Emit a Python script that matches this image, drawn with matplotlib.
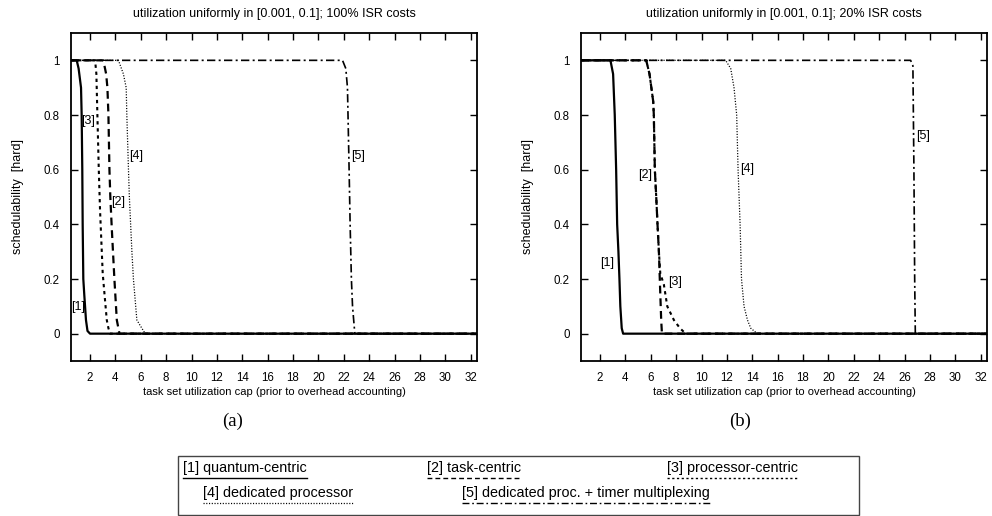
import matplotlib
matplotlib.use("Agg")
import matplotlib.pyplot as plt
from matplotlib.lines import Line2D
from matplotlib.patches import Rectangle
from matplotlib import font_manager

plt.rcParams['font.family'] = ['Liberation Sans', 'DejaVu Sans']

# ---------------- data ----------------
titles = ["utilization uniformly in [0.001, 0.1]; 100% ISR costs",
          "utilization uniformly in [0.001, 0.1]; 20% ISR costs"]
panel_tags = ["(a)", "(b)"]
xlabel = "task set utilization cap (prior to overhead accounting)"
ylabel = "schedulability  [hard]"
xticks = list(range(2, 33, 2))
yticks = [0, 0.2, 0.4, 0.6, 0.8, 1]
ytick_labels = ['0', '0.2', '0.4', '0.6', '0.8', '1']
series_names = ["[1] quantum-centric", "[2] task-centric", "[3] processor-centric",
                "[4] dedicated processor", "[5] dedicated proc. + timer multiplexing"]
series_tags = ["[1]", "[2]", "[3]", "[4]", "[5]"]

# panel (a): 100% ISR costs
a1_x = [0.5, 0.95, 1.1, 1.29, 1.34, 1.39, 1.42, 1.47, 1.55, 1.68, 1.8, 2.0, 32.5]
a1_y = [1, 1, 0.97, 0.9, 0.8, 0.6, 0.4, 0.2, 0.14, 0.05, 0.01, 0, 0]
a2_x = [0.5, 3.05, 3.27, 3.37, 3.45, 3.53, 3.6, 3.72, 3.92, 4.11, 4.32, 32.5]
a2_y = [1, 1, 0.95, 0.9, 0.8, 0.6, 0.5, 0.38, 0.2, 0.05, 0, 0]
a3_x = [0.5, 2.4, 2.5, 2.58, 2.69, 2.79, 3.0, 3.13, 3.32, 3.45, 3.58, 32.5]
a3_y = [1, 1, 0.95, 0.8, 0.6, 0.45, 0.22, 0.15, 0.05, 0.02, 0, 0]
a4_x = [0.5, 4.24, 4.63, 4.85, 4.9, 5.03, 5.1, 5.3, 5.42, 5.69, 5.95, 6.35, 32.5]
a4_y = [1, 1, 0.95, 0.9, 0.8, 0.6, 0.5, 0.3, 0.2, 0.05, 0.03, 0, 0]
a5_x = [0.5, 21.9, 22.16, 22.29, 22.42, 22.5, 22.6, 22.69, 22.87, 32.5]
a5_y = [1, 1, 0.97, 0.9, 0.6, 0.4, 0.2, 0.1, 0, 0]

# panel (b): 20% ISR costs
b1_x = [0.5, 2.82, 3.03, 3.16, 3.27, 3.35, 3.45, 3.53, 3.6, 3.71, 3.82, 32.5]
b1_y = [1, 1, 0.95, 0.8, 0.6, 0.4, 0.3, 0.2, 0.1, 0.02, 0, 0]
b2_x = [0.5, 5.64, 5.9, 6.19, 6.24, 6.32, 6.43, 6.53, 6.64, 6.71, 6.82, 6.88, 32.5]
b2_y = [1, 1, 0.95, 0.85, 0.8, 0.6, 0.5, 0.4, 0.3, 0.2, 0.05, 0, 0]
b3_x = [0.5, 5.64, 5.9, 6.19, 6.24, 6.32, 6.43, 6.53, 6.64, 6.75, 7.03, 7.3, 7.82, 8.3, 8.75, 32.5]
b3_y = [1, 1, 0.95, 0.85, 0.8, 0.6, 0.5, 0.4, 0.3, 0.22, 0.18, 0.1, 0.05, 0.02, 0, 0]
b4_x = [0.5, 11.9, 12.3, 12.56, 12.77, 12.88, 13.04, 13.15, 13.35, 13.62, 13.88, 14.4, 32.5]
b4_y = [1, 1, 0.97, 0.9, 0.8, 0.6, 0.4, 0.2, 0.1, 0.05, 0.02, 0, 0]
b5_x = [0.5, 26.48, 26.66, 26.74, 26.8, 26.85, 32.5]
b5_y = [1, 1, 0.98, 0.6, 0.2, 0, 0]

# curve label anchor positions (data coords, left edge / vertical centre)
a_label_x = [0.5, 3.66, 1.3, 5.08, 22.58]
a_label_y = [0.096, 0.48, 0.777, 0.651, 0.651]
b_label_x = [2.0, 4.97, 7.35, 13.06, 26.9]
b_label_y = [0.259, 0.58, 0.19, 0.603, 0.722]

# ---------------- styles ----------------
styles = [
    dict(color='black', lw=1.6, ls='-'),
    dict(color='black', lw=1.6, ls=(0, (3.5, 2.2))),
    dict(color='black', lw=1.5, ls=(0, (1.6, 1.8))),
    dict(color='black', lw=0.9, ls=(0, (0.9, 1.3))),
    dict(color='black', lw=1.2, ls=(0, (5, 2, 1.2, 2))),
]

W, H = 992, 516
fig = plt.figure(figsize=(W / 100, H / 100), dpi=100)

def px_axes(l, r, t, b):
    return fig.add_axes([l / W, (H - b) / H, (r - l) / W, (b - t) / H])

AX_T, AX_B = 33, 361
ax_a = px_axes(71, 477, AX_T, AX_B)
ax_b = px_axes(581, 987, AX_T, AX_B)

panels = [
    (ax_a, [(a1_x, a1_y), (a2_x, a2_y), (a3_x, a3_y), (a4_x, a4_y), (a5_x, a5_y)], a_label_x, a_label_y),
    (ax_b, [(b1_x, b1_y), (b2_x, b2_y), (b3_x, b3_y), (b4_x, b4_y), (b5_x, b5_y)], b_label_x, b_label_y),
]

axh = AX_B - AX_T
for i, (ax, data, lx, ly) in enumerate(panels):
    for (x, y), st in zip(data, styles):
        ax.plot(x, y, **st)
    for tag, tx, ty in zip(series_tags, lx, ly):
        ax.text(tx, ty, tag, fontsize=9, ha='left', va='center')
    ax.set_xlim(0.5, 32.5)
    ax.set_ylim(-0.1, 1.1)
    ax.set_xticks(xticks)
    ax.set_yticks(yticks)
    ax.set_yticklabels(ytick_labels)
    ax.tick_params(direction='in', top=True, right=True, length=5, width=1,
                   labelsize=8.3)
    ax.tick_params(axis='x', pad=8)
    ax.tick_params(axis='y', pad=8)
    for sp in ax.spines.values():
        sp.set_linewidth(1.3)
    ax.text(0.5, (AX_B - 14) / axh, titles[i], fontsize=9, ha='center', va='center',
            transform=ax.transAxes)
    ax.text(0.5, (AX_B - 392) / axh, xlabel, fontsize=8, ha='center', va='center',
            transform=ax.transAxes)
    ax.text(-53 / 406, 0.5, ylabel, fontsize=9, ha='center', va='center',
            rotation=90, transform=ax.transAxes)

# panel tags
fig.text(233 / W, 1 - 421 / H, panel_tags[0], fontsize=13.5, family='Liberation Serif',
         ha='center', va='center')
fig.text(740 / W, 1 - 421 / H, panel_tags[1], fontsize=13.5, family='Liberation Serif',
         ha='center', va='center')

# legend box
names = {f.name for f in font_manager.fontManager.ttflist}
if 'Liberation Sans Narrow' in names:
    lf = ['Liberation Sans Narrow', 'Liberation Sans', 'DejaVu Sans']
    lfs = 12.6
else:
    lf = ['Liberation Sans', 'DejaVu Sans']
    lfs = 10.4

fig.patches.append(Rectangle((178 / W, 1 - 515 / H), (859 - 178) / W, (515 - 456) / H,
                             transform=fig.transFigure, fill=False, lw=1.0,
                             edgecolor='#444444'))
leg_pos = [(183, 468), (427, 468), (667, 468), (203, 493), (462, 493)]
renderer = fig.canvas.get_renderer()
for name, (px, py), st in zip(series_names, leg_pos, styles):
    t = fig.text(px / W, 1 - py / H, name, fontsize=lfs, family=lf,
                 ha='left', va='center')
    bb = t.get_window_extent(renderer=renderer)
    yline = 1 - (py + 10) / H
    fig.lines.append(Line2D([bb.x0 / W, bb.x1 / W], [yline, yline],
                            transform=fig.transFigure, color='black',
                            lw=min(st['lw'], 1.0), ls=st['ls']))

fig.savefig('out.png', dpi=100)
